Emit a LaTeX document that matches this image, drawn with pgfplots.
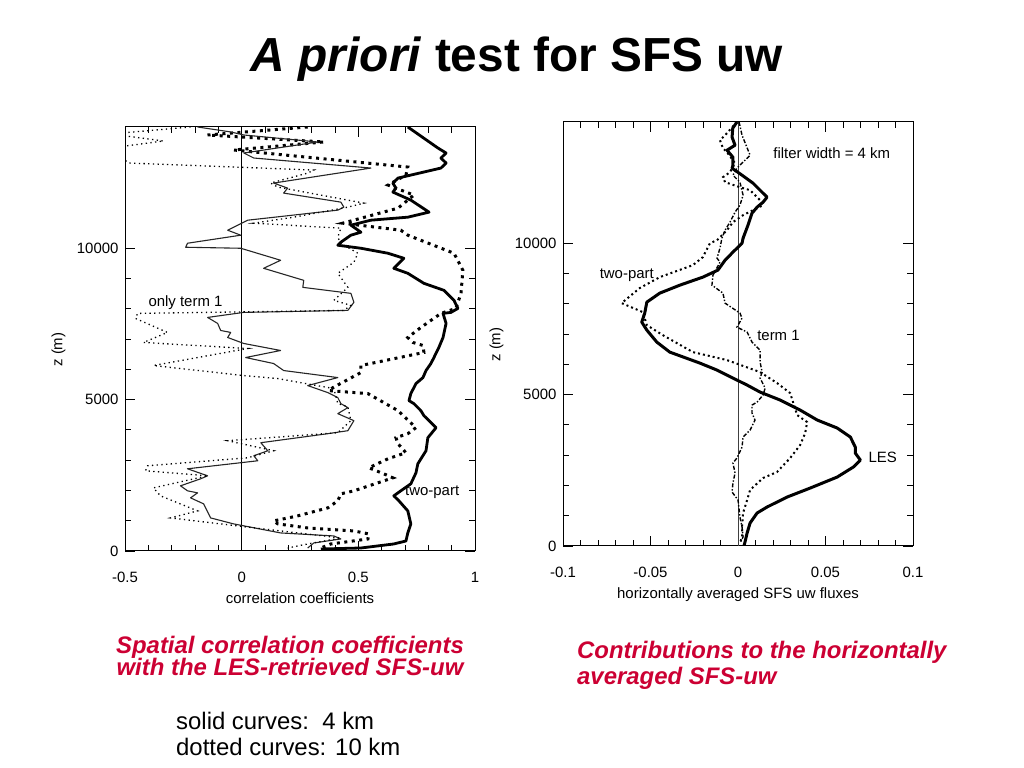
\documentclass[border=0pt]{standalone}
\usepackage{pgfplots}
\pgfplotsset{compat=1.18}
\usepackage{fontspec}
\setmainfont{Liberation Sans}
\definecolor{capred}{RGB}{204,0,51}

\pgfplotsset{
  panel/.style={
    scale only axis, width=350bp, height=424bp,
    ymin=0, ymax=14000,
    scaled x ticks=false, scaled y ticks=false,
    axis line style={line width=1bp},
    every tick/.style={black, line width=0.8bp},
    tick align=inside, tick pos=both,
    major tick length=10bp, minor tick length=6bp,
    ytick={0,5000,10000}, yticklabels={0,5000,10000}, minor y tick num=4,
    minor x tick num=4,
    ticklabel style={font=\fontsize{15}{18}\selectfont},
    label style={font=\fontsize{15}{18}\selectfont},
    xticklabel style={anchor=base, yshift=-32bp},
    yticklabel style={xshift=-3bp},
    xlabel style={at={(axis description cs:0.5,-0.125)}, anchor=base},
    ylabel style={at={(axis description cs:-0.19,0.475)}, anchor=center},
  },
  thicksolid/.style={black, line width=2.8bp, line join=round},
  thickdot/.style={black, line width=3bp, dash pattern=on 3bp off 4.5bp},
  thinsolid/.style={black!85, line width=1.1bp, line join=round},
  thindot/.style={black, line width=1.3bp, dash pattern=on 1.3bp off 3.4bp},
}

\begin{document}
\begin{tikzpicture}[x=1bp,y=1bp]
\useasboundingbox (0,0) rectangle (1024,768);
\fill[white] (0,0) rectangle (1024,768);

\node[anchor=base, font=\fontsize{48}{54}\selectfont\bfseries] at (517,696) {\textit{A priori} test for SFS uw};

% left panel: correlation coefficients
\begin{axis}[panel, at={(125bp,217bp)}, anchor=south west,
    xmin=-0.5, xmax=1,
    xtick={-0.5,0,0.5,1}, xticklabels={-0.5,0,0.5,1},
    xlabel={correlation coefficients}, ylabel={z (m)}]
\draw[line width=0.8bp] (axis cs:0,0) -- (axis cs:0,14000);
% two-part, 4 km
\addplot[thicksolid] coordinates {
(0.712,14000)(0.841,13306)(0.876,13141)(0.854,12975)(0.876,12810)(0.854,12644)
(0.670,12313)(0.648,12148)(0.661,11982)(0.648,11850)(0.725,11585)(0.803,11188)
(0.712,11022)(0.554,10923)(0.468,10758)(0.511,10526)(0.468,10427)(0.425,10195)
(0.412,10096)(0.511,9996)(0.627,9831)(0.695,9665)(0.652,9334)(0.712,9169)
(0.781,8838)(0.867,8606)(0.910,8275)(0.927,8010)(0.897,7878)(0.863,7845)
(0.876,7514)(0.863,7050)(0.845,6719)(0.824,6388)(0.811,6190)(0.790,5958)
(0.777,5726)(0.747,5528)(0.725,5197)(0.717,4965)(0.738,4866)(0.768,4634)
(0.781,4469)(0.833,4071)(0.798,3740)(0.790,3310)(0.755,2880)(0.747,2582)
(0.725,2218)(0.682,1986)(0.652,1821)(0.674,1655)(0.712,1324)(0.725,894)
(0.712,596)(0.704,331)(0.652,232)(0.511,99)(0.339,66)
};
% two-part, 10 km
\addplot[thickdot] coordinates {
(0.283,14000)(-0.146,13736)(0.352,13505)(-0.034,13240)(0.712,12677)(0.704,12413)
(0.627,12082)(0.738,11751)(0.670,11320)(0.433,10824)(0.682,10592)(0.712,10427)
(0.910,9831)(0.948,9268)(0.940,8507)(0.918,8010)(0.854,7845)(0.768,7381)
(0.712,7050)(0.734,6885)(0.777,6786)(0.781,6554)(0.511,6124)(0.511,5892)
(0.391,5395)(0.373,5296)(0.541,5197)(0.670,4634)(0.747,4071)(0.712,3873)
(0.661,3740)(0.670,3542)(0.704,3244)(0.627,3045)(0.545,2747)(0.609,2549)
(0.648,2416)(0.481,1986)(0.425,1887)(0.412,1655)(0.369,1423)(0.240,1159)
(0.137,993)(0.155,894)(0.283,761)(0.481,662)(0.545,563)(0.541,397)
(0.382,232)(0.339,99)
};
% only term 1, 4 km
\addplot[thinsolid] coordinates {
(-0.189,14000)(-0.047,13836)(0.009,13736)(0.326,13505)(0.009,13141)(0.052,12975)
(0.554,12644)(0.137,12148)(0.197,11982)(0.180,11817)(0.425,11519)(0.438,11353)
(0.412,11254)(0.026,10923)(-0.060,10592)(-0.004,10427)(-0.232,10162)(-0.240,10029)
(-0.004,9996)(0.167,9599)(0.094,9334)(0.266,8937)(0.262,8705)(0.468,8507)
(0.481,8209)(0.455,7944)(0.009,7878)(-0.146,7712)(-0.103,7514)(-0.090,7282)
(-0.047,7216)(-0.060,7050)(0.009,6852)(0.167,6620)(0.017,6388)(0.137,6190)
(0.180,5958)(0.412,5726)(0.283,5462)(0.369,5230)(0.412,5064)(0.425,4866)
(0.455,4733)(0.412,4535)(0.481,4303)(0.455,3972)(0.369,3873)(0.082,3575)
(0.112,3310)(0.052,3145)(0.069,2979)(-0.232,2714)(-0.146,2483)(-0.176,2383)
(-0.262,2152)(-0.232,1986)(-0.189,1920)(-0.219,1754)(-0.163,1556)(-0.133,1092)
(-0.034,894)(0.167,596)(0.395,497)(0.425,397)(0.309,265)(0.283,99)
};
% only term 1, 10 km
\addplot[thindot] coordinates {
(-0.219,14000)(-0.562,13770)(-0.335,13538)(-0.562,13306)(-0.485,12810)(0.309,12578)
(0.283,12479)(0.124,12148)(0.155,12015)(0.524,11486)(0.455,11353)(0.223,11022)
(0.052,10824)(0.425,10658)(0.412,10360)(0.425,10162)(0.498,9831)(0.481,9533)
(0.412,9169)(0.455,8705)(0.395,8275)(0.468,8110)(0.438,7944)(-0.446,7845)
(-0.455,7679)(-0.318,7216)(-0.421,6885)(0.026,6686)(-0.378,6124)(0.009,5792)
(0.155,5693)(0.395,5362)(0.412,4866)(0.455,4766)(0.468,4303)(0.412,3906)
(-0.060,3641)(0.137,3310)(0.026,3078)(-0.403,2814)(-0.412,2648)(-0.146,2483)
(-0.378,2085)(-0.348,1821)(-0.189,1324)(-0.305,1092)(-0.017,828)(0.425,430)
(0.283,232)(0.197,99)
};
\node[anchor=west, inner sep=0, font=\fontsize{15}{18}\selectfont] at (axis cs:-0.40,8209) {only term 1};
\node[anchor=west, inner sep=0, font=\fontsize{15}{18}\selectfont] at (axis cs:0.70,1953) {two-part};
\end{axis}

% right panel: horizontally averaged fluxes
\begin{axis}[panel, at={(563bp,222bp)}, anchor=south west,
    xmin=-0.1, xmax=0.1,
    xtick={-0.1,-0.05,0,0.05,0.1}, xticklabels={-0.1,-0.05,0,0.05,0.1},
    xlabel={horizontally averaged SFS uw fluxes}, ylabel={z (m)}]
\draw[line width=0.7bp, black!75] (axis cs:0,0) -- (axis cs:0,14000);
% LES
\addplot[black, line width=3bp, line join=round] coordinates {
(-0.0006,14000)(-0.003,13794)(-0.0034,13497)(-0.0017,13233)(-0.0063,13068)(-0.0029,12837)
(-0.0029,12573)(-0.0034,12474)(0.0023,12243)(0.0086,11979)(0.0126,11748)(0.0166,11517)
(0.0143,11352)(0.0109,11187)(0.0080,10989)(0.0057,10593)(0.0029,10164)(0.0023,9999)
(-0.0029,9702)(-0.0074,9438)(-0.0086,9339)(-0.0115,9108)(-0.0201,8877)(-0.0332,8613)
(-0.0447,8349)(-0.0521,8052)(-0.0533,7689)(-0.0550,7392)(-0.0521,7128)(-0.0464,6732)
(-0.0390,6402)(-0.0218,6039)(-0.0120,5808)(-0.0029,5544)(0.0052,5313)(0.0126,5082)
(0.0241,4818)(0.0355,4488)(0.0453,4158)(0.0567,3894)(0.0642,3597)(0.0670,3267)
(0.0670,3069)(0.0699,2838)(0.0659,2607)(0.0567,2277)(0.0413,1914)(0.0281,1617)
(0.0166,1287)(0.0109,1089)(0.0069,759)(0.0052,429)(0.0040,132)(0.0034,0)
};
% two-part
\addplot[black, line width=2bp, dash pattern=on 2bp off 3bp] coordinates {
(-0.0006,14000)(-0.0074,13563)(-0.0103,13398)(-0.0086,13134)(-0.0063,13002)(-0.0017,12639)
(-0.0046,12342)(-0.0086,12177)(-0.0074,12012)(0.0011,11847)(0.0069,11748)(0.0126,11418)
(0.0143,11253)(0.0086,11088)(0.0029,10923)(-0.0029,10692)(-0.0063,10428)(-0.0120,10098)
(-0.0160,9999)(-0.0201,9537)(-0.0258,9273)(-0.0447,8877)(-0.0562,8514)(-0.0665,8019)
(-0.0544,7722)(-0.0521,7293)(-0.0430,6963)(-0.0258,6402)(-0.0063,6138)(0.0126,5742)
(0.0223,5379)(0.0298,5049)(0.0338,4323)(0.0395,4092)(0.0384,3729)(0.0355,3333)
(0.0298,2904)(0.0223,2442)(0.0143,2244)(0.0069,1848)(0.0052,1518)(0.0029,1089)
(0.0023,627)(0.0023,297)(0.0011,99)
};
% term 1
\addplot[black, line width=1.4bp, dash pattern=on 4bp off 1.8bp on 1.4bp off 1.8bp] coordinates {
(0.0006,14000)(0.0023,13563)(0.0069,12903)(-0.0006,12474)(-0.0029,12243)(0.0011,12012)
(0.0029,11583)(0.0011,11253)(-0.0017,11022)(-0.0046,10692)(-0.0074,10428)(-0.0092,10164)
(-0.0103,9834)(-0.0120,9504)(-0.0103,9372)(-0.0143,8943)(-0.0149,8613)(-0.0086,8349)
(-0.0074,8019)(0.0011,7689)(0.0023,7524)(-0.0006,7227)(0.0052,7062)(0.0080,6732)
(0.0126,6468)(0.0126,6072)(0.0138,5742)(0.0126,5544)(0.0155,5214)(0.0143,4983)
(0.0109,4752)(0.0080,4653)(0.0080,4389)(0.0097,4158)(0.0069,3828)(0.0029,3597)
(0.0023,3267)(-0.0006,2904)(-0.0029,2739)(-0.0017,2409)(-0.0029,2079)(-0.0034,1782)
(0.0000,1518)(0.0011,957)(0.0023,627)(0.0029,297)(0.0011,99)
};
\node[anchor=west, inner sep=0, font=\fontsize{15}{18}\selectfont] at (axis cs:0.0201,12969) {filter width = 4 km};
\node[anchor=west, inner sep=0, font=\fontsize{15}{18}\selectfont] at (axis cs:-0.0791,8943) {two-part};
\node[anchor=west, inner sep=0, font=\fontsize{15}{18}\selectfont] at (axis cs:0.0109,6963) {term 1};
\node[anchor=west, inner sep=0, font=\fontsize{15}{18}\selectfont] at (axis cs:0.0745,2937) {LES};
\end{axis}

\begin{scope}[every node/.style={inner sep=0, text=capred, font=\fontsize{24}{26}\selectfont\bfseries\itshape}]
\node[anchor=base] at (290,114) {Spatial correlation coefficients};
\node[anchor=base] at (290,92) {with the LES-retrieved SFS-uw};
\node[anchor=base west] at (577,109) {Contributions to the horizontally};
\node[anchor=base west] at (577,83) {averaged SFS-uw};
\end{scope}
\begin{scope}[every node/.style={inner sep=0, font=\fontsize{24}{26}\selectfont}]
\node[anchor=base west] at (176,38) {solid curves:\ \ 4 km};
\node[anchor=base west] at (176,12) {dotted curves: 10 km};
\end{scope}
\end{tikzpicture}
\end{document}
